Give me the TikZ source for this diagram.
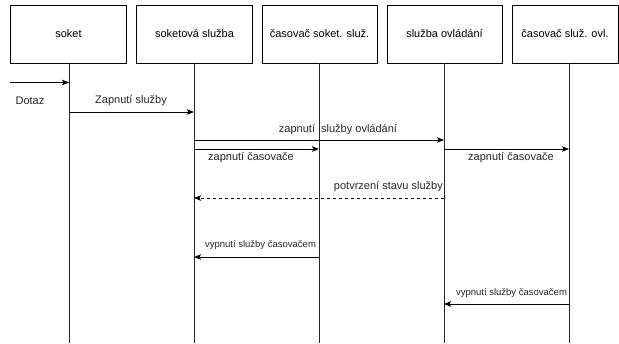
\documentclass[tikz,border=0pt]{standalone}
\usepackage{fontspec}
\setmainfont{Liberation Sans}
\usetikzlibrary{arrows.meta}
\begin{document}
\begin{tikzpicture}[x=1pt,y=-1pt,
  lbox/.style={draw, line width=0.8pt, minimum width=116pt, minimum height=58pt, inner sep=0pt, font=\fontsize{11}{13}\selectfont},
  life/.style={line width=0.8pt, draw=black!85},
  msg/.style={line width=0.8pt, -{Stealth[length=7pt,width=5.5pt,inset=1.5pt]}},
  reply/.style={msg, dash pattern=on 3pt off 3pt},
  lab/.style={font=\fontsize{11}{13}\selectfont, inner sep=0pt, text=black!85},
  slab/.style={font=\fontsize{9.5}{11}\selectfont, inner sep=0pt, text=black!85}]
\useasboundingbox (0,0) rectangle (619,343);
% participant boxes
\node[lbox] (b1) at (68.5,34) {soket};
\node[lbox] (b2) at (194.5,34) {soketová služba};
\node[lbox, minimum width=115pt] (b3) at (319.5,34) {časovač soket. služ.};
\node[lbox, minimum width=115pt] (b4) at (444.5,34) {služba ovládání};
\node[lbox, minimum width=106pt] (b5) at (565,34) {časovač služ. ovl.};
% lifelines
\foreach \i/\x in {1/69,2/194,3/319,4/444,5/569}{
  \coordinate (t\i) at (\x,63);
  \coordinate (e\i) at (\x,343);
  \draw[life] (t\i) -- (e\i);
}
% message end points
\coordinate (dz) at (10,82.5);
\coordinate (p1a) at (69,82.5);
\coordinate (p1b) at (69,112);
\coordinate (p2b) at (194,112);
\coordinate (p2c) at (194,140);
\coordinate (p4c) at (444,140);
\coordinate (p2d) at (194,149);
\coordinate (p3d) at (319,149);
\coordinate (p4d) at (444,149);
\coordinate (p5d) at (569,149);
\coordinate (p4e) at (444,198);
\coordinate (p2e) at (194,198);
\coordinate (p3f) at (319,257);
\coordinate (p2f) at (194,257);
\coordinate (p5g) at (569,304);
\coordinate (p4g) at (444,304);
% messages
\draw[msg] (dz) -- (p1a);
\node[lab] (l1) at (30,101) {Dotaz};
\draw[msg] (p1b) -- (p2b);
\node[lab] (l2) at (131,101) {Zapnutí služby};
\draw[msg] (p2c) -- (p4c);
\node[lab] (l3) at (338,130) {zapnutí\ \ služby ovládání};
\draw[msg] (p2d) -- (p3d);
\node[lab] (l4) at (251,157.5) {zapnutí časovače};
\draw[msg] (p4d) -- (p5d);
\node[lab] (l5) at (511,157.5) {zapnutí časovače};
\draw[reply] (p4e) -- (p2e);
\node[lab, anchor=east] (l6) at (443,187) {potvrzení stavu služby};
\draw[msg] (p3f) -- (p2f);
\node[slab] (l7) at (260.5,245) {vypnutí služby časovačem};
\draw[msg] (p5g) -- (p4g);
\node[slab] (l8) at (511.5,293) {vypnutí služby časovačem};
\end{tikzpicture}
\end{document}
